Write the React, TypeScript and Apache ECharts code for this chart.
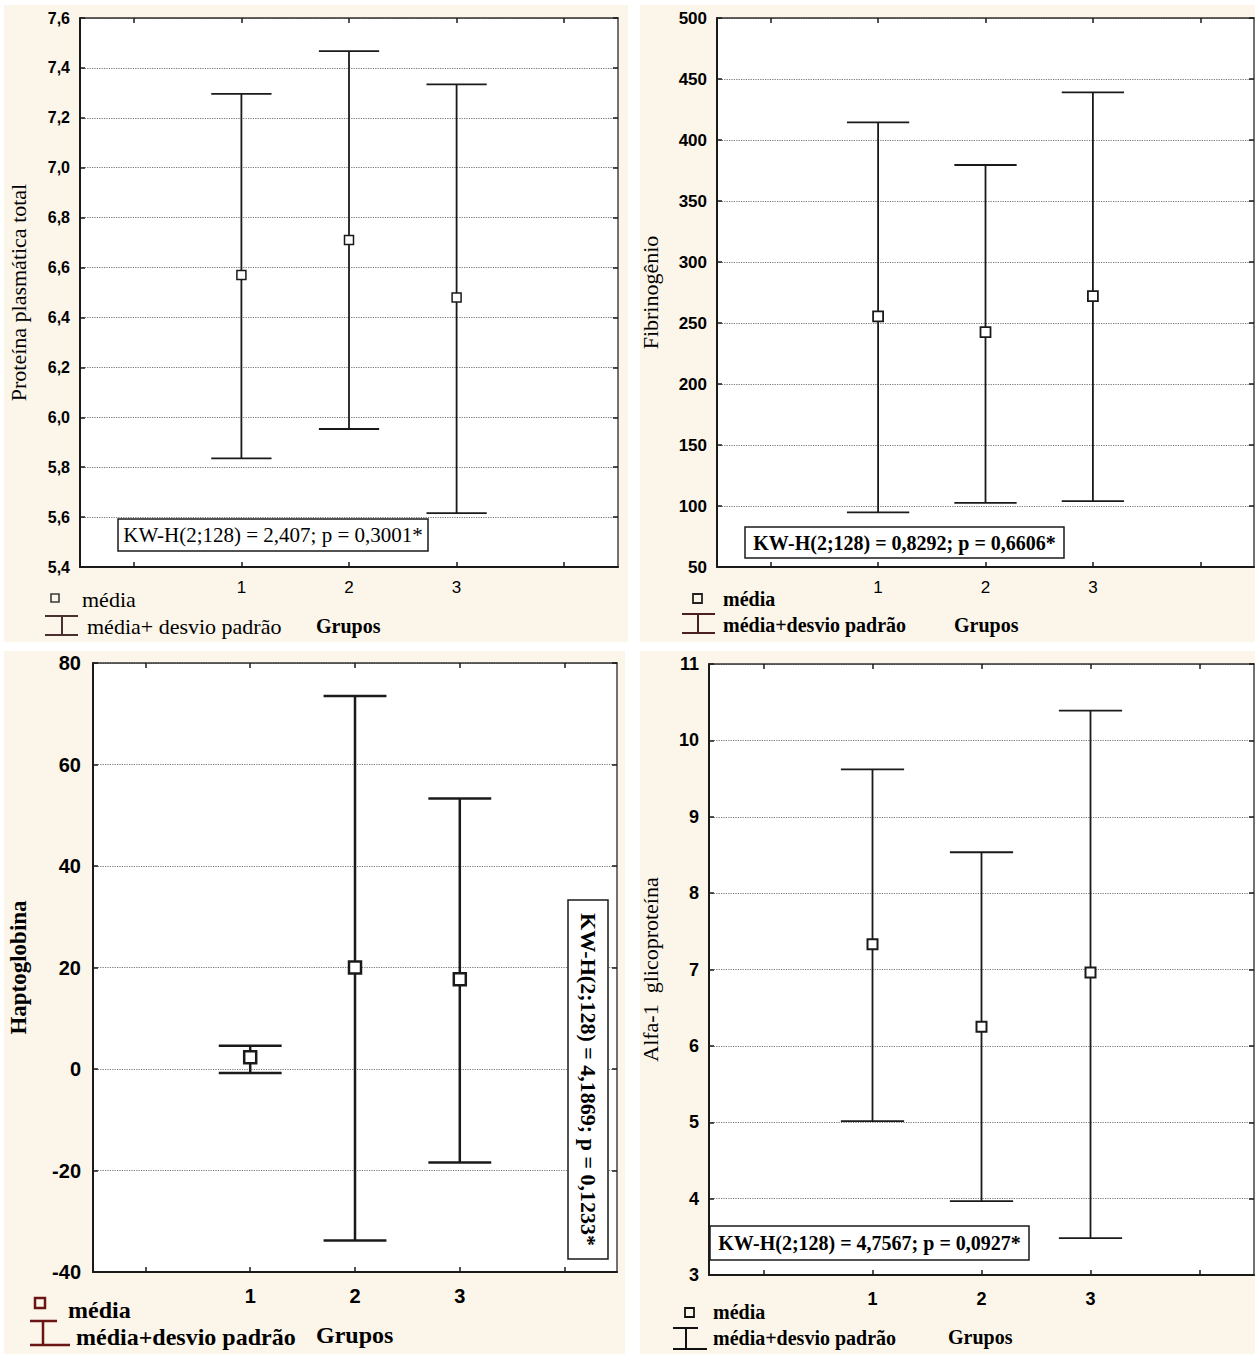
import React, { useEffect, useRef } from "react";
import * as echarts from "echarts";

// ---------- data ----------
const categories = ["0", "1", "2", "3", "4"];
const groupIdx = [1, 2, 3];

// Panel 1 – Proteína plasmática total
const p1Mean = [6.57, 6.71, 6.48];
const p1Upper = [7.296, 7.467, 7.334];
const p1Lower = [5.835, 5.953, 5.616];
const p1Ticks = { min: 5.4, max: 7.6, interval: 0.2 };

// Panel 2 – Fibrinogênio
const p2Mean = [255.5, 242.5, 272];
const p2Upper = [414.5, 379.5, 439];
const p2Lower = [94.8, 102.6, 104];
const p2Ticks = { min: 50, max: 500, interval: 50 };

// Panel 3 – Haptoglobina
const p3Mean = [2.3, 20.0, 17.7];
const p3Upper = [4.6, 73.5, 53.3];
const p3Lower = [-0.8, -33.8, -18.4];
const p3Ticks = { min: -40, max: 80, interval: 20 };

// Panel 4 – Alfa-1 glicoproteína
const p4Mean = [7.33, 6.25, 6.96];
const p4Upper = [9.62, 8.535, 10.39];
const p4Lower = [5.015, 3.966, 3.483];
const p4Ticks = { min: 3, max: 11, interval: 1 };

const annotations = [
  "KW-H(2;128) = 2,407; p = 0,3001*",
  "KW-H(2;128) = 0,8292; p = 0,6606*",
  "KW-H(2;128) = 4,1869; p = 0,1233*",
  "KW-H(2;128) = 4,7567; p = 0,0927*",
];
const yNames = ["Proteína plasmática total", "Fibrinogênio", "Haptoglobina", "Alfa-1  glicoproteína"];
const legendMean = "média";
const legendSd = ["média+ desvio padrão", "média+desvio padrão", "média+desvio padrão", "média+desvio padrão"];
const xName = "Grupos";

const SANS = '"Liberation Sans", Arial, sans-serif';
const SERIF = '"Liberation Serif", "Times New Roman", serif';
const INK = "#1a1a1a";
const CREAM = "#fcf6ea";

type Panel = {
  grid: { left: number; top: number; width: number; height: number };
  mean: number[];
  upper: number[];
  lower: number[];
  ticks: { min: number; max: number; interval: number };
  fmt: (v: number) => string;
  yFont: { size: number; weight: string };
  xFont: { size: number; weight: string };
  yMargin: number;
  xMargin: number;
  name: string;
  nameFont: { size: number; weight: string };
  nameGap: number;
  marker: number;
  markerBorder: number;
  barWidth: number;
  capRatio: number;
};

const panels: Panel[] = [
  {
    grid: { left: 80, top: 18, width: 538, height: 549 },
    mean: p1Mean, upper: p1Upper, lower: p1Lower, ticks: p1Ticks,
    fmt: (v) => v.toFixed(1).replace(".", ","),
    yFont: { size: 16, weight: "bold" }, xFont: { size: 17, weight: "normal" },
    yMargin: 10, xMargin: 12, name: yNames[0], nameFont: { size: 22, weight: "normal" }, nameGap: 51,
    marker: 9, markerBorder: 1.5, barWidth: 1.8, capRatio: 0.28,
  },
  {
    grid: { left: 717, top: 18, width: 537, height: 549 },
    mean: p2Mean, upper: p2Upper, lower: p2Lower, ticks: p2Ticks,
    fmt: (v) => String(Math.round(v)),
    yFont: { size: 17, weight: "bold" }, xFont: { size: 17, weight: "normal" },
    yMargin: 10, xMargin: 12, name: yNames[1], nameFont: { size: 22, weight: "normal" }, nameGap: 56,
    marker: 10, markerBorder: 1.8, barWidth: 1.8, capRatio: 0.29,
  },
  {
    grid: { left: 93, top: 663, width: 524, height: 609 },
    mean: p3Mean, upper: p3Upper, lower: p3Lower, ticks: p3Ticks,
    fmt: (v) => String(Math.round(v)),
    yFont: { size: 20, weight: "bold" }, xFont: { size: 20, weight: "bold" },
    yMargin: 12, xMargin: 14, name: yNames[2], nameFont: { size: 23, weight: "bold" }, nameGap: 63,
    marker: 12, markerBorder: 2.5, barWidth: 2.5, capRatio: 0.3,
  },
  {
    grid: { left: 709, top: 664, width: 545, height: 611 },
    mean: p4Mean, upper: p4Upper, lower: p4Lower, ticks: p4Ticks,
    fmt: (v) => String(Math.round(v)),
    yFont: { size: 18, weight: "bold" }, xFont: { size: 18, weight: "bold" },
    yMargin: 10, xMargin: 15, name: yNames[3], nameFont: { size: 22, weight: "normal" }, nameGap: 48,
    marker: 10, markerBorder: 2, barWidth: 1.8, capRatio: 0.29,
  },
];

function makeRender(capRatio: number, lw: number) {
  return (params: any, api: any) => {
    const x = api.value(0);
    const lo = api.value(1);
    const hi = api.value(2);
    const a = api.coord([x, hi]);
    const b = api.coord([x, lo]);
    const half = api.size([1, 0])[0] * capRatio;
    const style = { stroke: INK, lineWidth: lw };
    return {
      type: "group",
      children: [
        { type: "line", shape: { x1: a[0], y1: a[1], x2: b[0], y2: b[1] }, style },
        { type: "line", shape: { x1: a[0] - half, y1: a[1], x2: a[0] + half, y2: a[1] }, style },
        { type: "line", shape: { x1: b[0] - half, y1: b[1], x2: b[0] + half, y2: b[1] }, style },
      ],
    };
  };
}

function buildOption() {
  const grid: any[] = [];
  const xAxis: any[] = [];
  const yAxis: any[] = [];
  const series: any[] = [];

  panels.forEach((p, i) => {
    grid.push({ ...p.grid, show: true, backgroundColor: "#ffffff", borderWidth: 0, containLabel: false });
    const tickStyle = { color: INK, width: 1.5 };
    xAxis.push({
      type: "category", gridIndex: i, data: categories, position: "bottom", boundaryGap: true,
      axisLine: { show: true, onZero: false, lineStyle: { color: INK, width: 2 } },
      axisTick: { show: true, inside: true, alignWithLabel: true, length: 5, interval: 0, lineStyle: tickStyle },
      axisLabel: {
        interval: 0, margin: p.xMargin, color: "#000",
        fontFamily: SANS, fontSize: p.xFont.size, fontWeight: p.xFont.weight,
        formatter: (v: string) => (v === "0" || v === "4" ? "" : v),
      },
      splitLine: { show: false },
    });
    xAxis.push({
      type: "category", gridIndex: i, data: categories, position: "top", boundaryGap: true,
      axisLine: { show: true, onZero: false, lineStyle: { color: "#333", width: 1.5 } },
      axisTick: { show: true, inside: true, alignWithLabel: true, length: 5, interval: 0, lineStyle: tickStyle },
      axisLabel: { show: false },
      splitLine: { show: false },
    });
    yAxis.push({
      type: "value", gridIndex: i, position: "left",
      min: p.ticks.min, max: p.ticks.max, interval: p.ticks.interval,
      axisLine: { show: true, onZero: false, lineStyle: { color: INK, width: 2 } },
      axisTick: { show: true, inside: true, length: 5, lineStyle: tickStyle },
      axisLabel: {
        margin: p.yMargin, color: "#000", fontFamily: SANS,
        fontSize: p.yFont.size, fontWeight: p.yFont.weight, formatter: p.fmt,
      },
      splitLine: { show: true, lineStyle: { color: "#777777", type: "dotted", width: 1.2 } },
      name: p.name, nameLocation: "middle", nameGap: p.nameGap,
      nameTextStyle: { color: "#000", fontFamily: SERIF, fontSize: p.nameFont.size, fontWeight: p.nameFont.weight },
    });
    yAxis.push({
      type: "value", gridIndex: i, position: "right",
      min: p.ticks.min, max: p.ticks.max, interval: p.ticks.interval,
      axisLine: { show: true, onZero: false, lineStyle: { color: "#444", width: 1.5 } },
      axisTick: { show: true, inside: true, length: 5, lineStyle: tickStyle },
      axisLabel: { show: false },
      splitLine: { show: false },
    });
    series.push({
      type: "custom", xAxisIndex: i * 2, yAxisIndex: i * 2, z: 3,
      renderItem: makeRender(p.capRatio, p.barWidth),
      encode: { x: 0, y: [1, 2] },
      data: groupIdx.map((g, k) => [g, p.lower[k], p.upper[k]]),
    });
    series.push({
      type: "scatter", xAxisIndex: i * 2, yAxisIndex: i * 2, z: 5,
      symbol: "rect", symbolSize: p.marker,
      itemStyle: { color: "#ffffff", borderColor: INK, borderWidth: p.markerBorder, opacity: 1 },
      data: groupIdx.map((g, k) => [g, p.mean[k]]),
    });
  });

  const text = (x: number, y: number, t: string, font: string, extra: any = {}) => ({
    type: "text", x, y, z: 50,
    style: { text: t, font, fill: "#000", align: "left", verticalAlign: "middle", ...extra },
  });
  const ln = (x1: number, y1: number, x2: number, y2: number, color: string, w: number) => ({
    type: "line", z: 50, shape: { x1, y1, x2, y2 }, style: { stroke: color, lineWidth: w },
  });
  const sq = (x: number, y: number, s: number, color: string, w: number) => ({
    type: "rect", z: 50, shape: { x, y, width: s, height: s }, style: { fill: "none", stroke: color, lineWidth: w },
  });
  const box = (x: number, y: number, w: number, h: number) => ({
    type: "rect", z: 40, shape: { x, y, width: w, height: h }, style: { fill: "#ffffff", stroke: INK, lineWidth: 1.5 },
  });

  const graphic: any[] = [
    // panel backgrounds
    { type: "rect", z: -100, shape: { x: 4, y: 5, width: 624, height: 637 }, style: { fill: CREAM } },
    { type: "rect", z: -100, shape: { x: 640, y: 5, width: 615, height: 637 }, style: { fill: CREAM } },
    { type: "rect", z: -100, shape: { x: 4, y: 651, width: 621, height: 703 }, style: { fill: CREAM } },
    { type: "rect", z: -100, shape: { x: 640, y: 651, width: 615, height: 703 }, style: { fill: CREAM } },

    // annotation boxes
    box(118, 519, 310, 32),
    text(273, 535, annotations[0], `21px ${SERIF}`, { align: "center" }),
    box(745, 527, 319, 31),
    text(904.5, 543, annotations[1], `bold 20px ${SERIF}`, { align: "center" }),
    box(568, 900, 40, 359),
    text(588, 1079.5, annotations[2], `bold 22px ${SERIF}`, { align: "center" }),
    box(710, 1226, 319, 34),
    text(869.5, 1243, annotations[3], `bold 20px ${SERIF}`, { align: "center" }),

    // legend panel 1
    sq(51, 594, 8, "#3a3a3a", 1.6),
    text(82, 599, legendMean, `22px ${SERIF}`),
    ln(45, 616, 78, 616, "#4a3030", 2),
    ln(62, 616, 62, 635, "#4a3030", 2),
    ln(45, 635, 78, 635, "#4a3030", 2),
    text(87, 626, legendSd[0], `22px ${SERIF}`),
    text(316, 626, xName, `bold 20px ${SERIF}`),

    // legend panel 2
    sq(693, 594, 9, "#222", 1.8),
    text(723, 599, legendMean, `bold 20px ${SERIF}`),
    ln(682, 614, 715, 614, "#4a2020", 2),
    ln(698, 614, 698, 633, "#4a2020", 2),
    ln(682, 633, 715, 633, "#4a2020", 2),
    text(723, 625, legendSd[1], `bold 20px ${SERIF}`),
    text(954, 625, xName, `bold 20px ${SERIF}`),

    // legend panel 3
    sq(35, 1298, 10, "#6a1414", 2.5),
    text(68, 1310, legendMean, `bold 24px ${SERIF}`),
    ln(30, 1321, 57, 1321, "#6a1414", 2.5),
    ln(43, 1321, 43, 1345, "#6a1414", 2.5),
    ln(30, 1345, 70, 1345, "#6a1414", 2.5),
    text(76, 1337, legendSd[2], `bold 24px ${SERIF}`),
    text(316, 1335, xName, `bold 24px ${SERIF}`),

    // legend panel 4
    sq(685, 1308, 9, "#111", 1.8),
    text(713, 1312, legendMean, `bold 20px ${SERIF}`),
    ln(673, 1328, 698, 1328, "#111", 2),
    ln(686, 1328, 686, 1349, "#111", 2),
    ln(673, 1349, 707, 1349, "#111", 2),
    text(713, 1338, legendSd[3], `bold 20px ${SERIF}`),
    text(948, 1337, xName, `bold 20px ${SERIF}`),
  ];
  // rotate panel 3 annotation
  graphic[9] = { ...graphic[9], rotation: -Math.PI / 2 };

  return {
    animation: false,
    backgroundColor: "#ffffff",
    grid, xAxis, yAxis, series, graphic,
  };
}

export default function App() {
  const ref = useRef<HTMLDivElement>(null);
  useEffect(() => {
    document.body.style.margin = "0";
    if (!ref.current) return;
    const chart = echarts.init(ref.current, undefined, { renderer: "svg" });
    chart.setOption(buildOption() as any);
    return () => chart.dispose();
  }, []);
  return (
    <div
      ref={ref}
      style={{ position: "absolute", left: 0, top: 0, width: 1255, height: 1354 }}
    />
  );
}
